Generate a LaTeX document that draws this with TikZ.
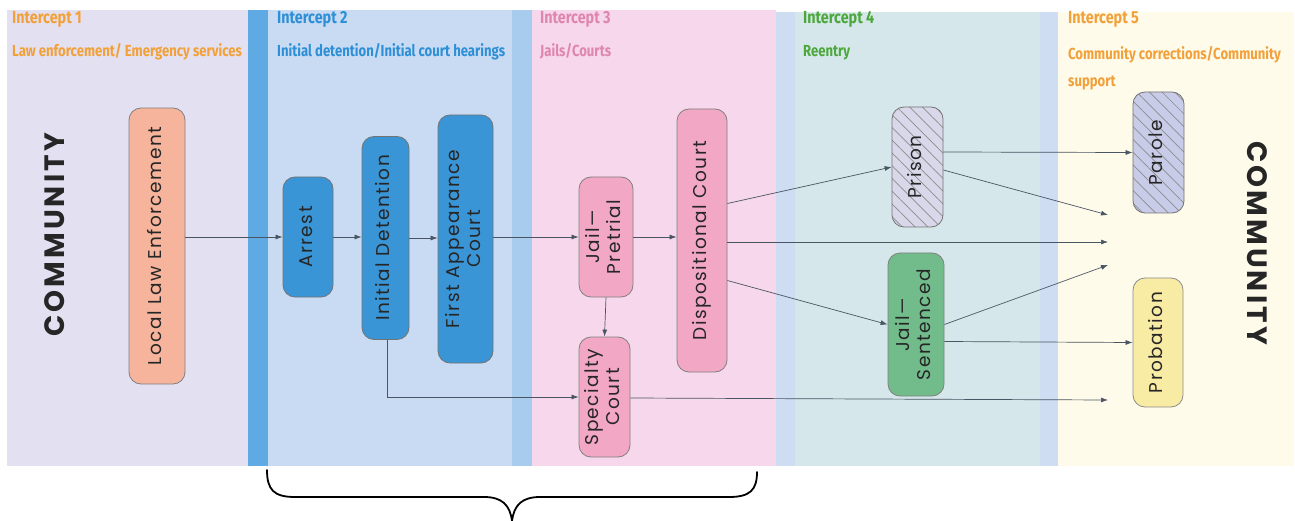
\documentclass[tikz,border=0pt]{standalone}
\usepackage{fontspec}
\setmainfont{Poppins}[LetterSpace=8]
\newfontfamily\commfont{Poppins}[LetterSpace=11]
\newfontfamily\hdrfont[FakeStretch=0.82]{Fira Sans}
\usetikzlibrary{arrows.meta,patterns.meta}
\definecolor{pone}{HTML}{E3E1F1}
\definecolor{sone}{HTML}{5FAAE3}
\definecolor{ptwo}{HTML}{C9DBF3}
\definecolor{stwo}{HTML}{A8CCEE}
\definecolor{pthree}{HTML}{F7D7EC}
\definecolor{pfouredge}{HTML}{CEDDF1}
\definecolor{pfour}{HTML}{D5E7EA}
\definecolor{pfive}{HTML}{FFFBEA}
\definecolor{corange}{HTML}{F2A03A}
\definecolor{cblue}{HTML}{2D8FD6}
\definecolor{cpink}{HTML}{DE86AE}
\definecolor{cgreen}{HTML}{4CA83C}
\definecolor{lec}{HTML}{F6B49C}
\definecolor{bluebox}{HTML}{3A95D6}
\definecolor{pinkbox}{HTML}{F2A7C5}
\definecolor{hatchA}{HTML}{D8D8EA}
\definecolor{hatchB}{HTML}{C8CCE8}
\definecolor{greenbox}{HTML}{72BC8C}
\definecolor{yellowbox}{HTML}{F8EBA4}
\definecolor{linec}{HTML}{4A5563}
\tikzset{
  box/.style={rounded corners=12pt, line width=0.8pt, inner sep=0pt,
    font=\fontsize{18.5}{21}\selectfont, text=black!85},
  hatchbox/.style={box, draw=black!55, preaction={fill=#1},
    pattern={Lines[angle=-45,distance=9pt,line width=0.7pt]}, pattern color=black!45},
  conn/.style={-{Latex[length=7pt,width=5pt]}, line width=0.7pt, draw=linec},
  hdrA/.style={font=\hdrfont\bfseries\fontsize{17.5}{20}\selectfont, anchor=base west, inner sep=0pt},
  hdrB/.style={font=\hdrfont\bfseries\fontsize{16}{18}\selectfont, anchor=base west, inner sep=0pt},
  comm/.style={font=\commfont\bfseries\fontsize{28}{28}\selectfont, text=black!85}
}
\newcommand{\vtext}[1]{\rotatebox{90}{\begin{tabular}{@{}c@{}}#1\end{tabular}}}
\begin{document}
\begin{tikzpicture}[x=1pt,y=-1pt]
\useasboundingbox (0,0) rectangle (1295,521);
% panels
\fill[pone] (7,10) rectangle (248,466);
\fill[sone] (248,10) rectangle (268,466);
\fill[ptwo] (268,10) rectangle (512,466);
\fill[stwo] (512,10) rectangle (532,466);
\fill[pthree] (532,10) rectangle (776,466);
\fill[pfouredge] (776,12) rectangle (1058,466);
\fill[pfour] (795,12) rectangle (1040,466);
\fill[pfive] (1058,12) rectangle (1294,466);
% headers
\node[hdrA, text=corange] (h1a) at (12,24) {Intercept 1};
\node[hdrB, text=corange] (h1b) at (12,57) {Law enforcement/ Emergency services};
\node[hdrA, text=cblue] (h2a) at (277,24) {Intercept 2};
\node[hdrB, text=cblue] (h2b) at (277,57) {Initial detention/Initial court hearings};
\node[hdrA, text=cpink] (h3a) at (540,24) {Intercept 3};
\node[hdrB, text=cpink] (h3b) at (540,57) {Jails/Courts};
\node[hdrA, text=cgreen] (h4a) at (803,24) {Intercept 4};
\node[hdrB, text=cgreen] (h4b) at (803,57) {Reentry};
\node[hdrA, text=corange] (h5a) at (1068,24) {Intercept 5};
\node[hdrB, text=corange] (h5b) at (1068,60) {Community corrections/Community};
\node[hdrB, text=corange] (h5c) at (1068,87) {support};
% community labels
\node[comm, rotate=90] (commL) at (55,235) {COMMUNITY};
\node[comm, rotate=-90] (commR) at (1257,243) {COMMUNITY};
% boxes
\node[box, draw=black!50, fill=lec, minimum width=56pt, minimum height=276pt] (lle) at (157,246) {\vtext{Local Law Enforcement}};
\node[box, draw=black!55, fill=bluebox, minimum width=50pt, minimum height=120pt] (arrest) at (308,237) {\vtext{Arrest}};
\node[box, draw=black!55, fill=bluebox, minimum width=47pt, minimum height=203pt] (initdet) at (385.5,238) {\vtext{Initial Detention}};
\node[box, draw=black!55, fill=bluebox, minimum width=55pt, minimum height=248pt] (firstapp) at (465.5,239) {\vtext{First Appearance\\Court}};
\node[box, draw=black!50, fill=pinkbox, minimum width=54pt, minimum height=120pt] (pretrial) at (606,237) {\vtext{Jail—\\Pretrial}};
\node[box, draw=black!50, fill=pinkbox, minimum width=51pt, minimum height=120pt] (specialty) at (604.5,397) {\vtext{Specialty\\Court}};
\node[box, draw=black!50, fill=pinkbox, minimum width=50pt, minimum height=263pt] (dispo) at (702,240.5) {\vtext{Dispositional Court}};
\node[hatchbox=hatchA, minimum width=51pt, minimum height=120pt] (prison) at (917.5,167) {\vtext{Prison}};
\node[box, draw=black!50, fill=greenbox, minimum width=56pt, minimum height=143pt] (jailsent) at (916,324.5) {\vtext{Jail—\\Sentenced}};
\node[hatchbox=hatchB, minimum width=51pt, minimum height=121pt] (parole) at (1158.5,152.5) {\vtext{Parole}};
\node[box, draw=black!45, fill=yellowbox, minimum width=50pt, minimum height=129pt] (probation) at (1158,342.5) {\vtext{Probation}};
% free ends
\coordinate (endA) at (1108,215);
\coordinate (endB) at (1108,242);
\coordinate (endC) at (1108,265);
\coordinate (endD) at (1108,400);
% connectors
\draw[conn] (arrest.west -| lle.east) -- (arrest.west);
\draw[conn] (arrest.east) -- (arrest.east -| initdet.west);
\draw[conn] (initdet.east) -- (initdet.east -| firstapp.west);
\draw[conn] (pretrial.west -| firstapp.east) -- (pretrial.west);
\draw[conn] (pretrial.east) -- (pretrial.east -| dispo.west);
\draw[conn] (pretrial.south) -- (specialty.north);
\draw[conn] ([xshift=1.5pt]initdet.south) |- (specialty.west);
\draw[conn] ([yshift=37pt]dispo.east) -- (prison.west);
\draw[conn] ([yshift=-1.5pt]dispo.east) -- (endB);
\draw[conn] ([yshift=-40pt]dispo.east) -- (jailsent.west);
\draw[conn] ([yshift=15pt]prison.east) -- (parole.west);
\draw[conn] ([yshift=-3pt]prison.east) -- (endA);
\draw[conn] (jailsent.east) -- (endC);
\draw[conn] ([yshift=-17pt]jailsent.east) -- (probation.west);
\draw[conn] ([yshift=-1pt]specialty.east) -- (endD);
% brace
\draw[line width=1.8pt, line cap=round] (267,470) .. controls (267,490) and (274,497) .. (295,497) -- (484,497) .. controls (502,497) and (510,505) .. (512,521);
\draw[line width=1.8pt, line cap=round] (757,472) .. controls (757,490) and (750,497) .. (729,497) -- (540,497) .. controls (522,497) and (514,505) .. (512,521);
\end{tikzpicture}
\end{document}
